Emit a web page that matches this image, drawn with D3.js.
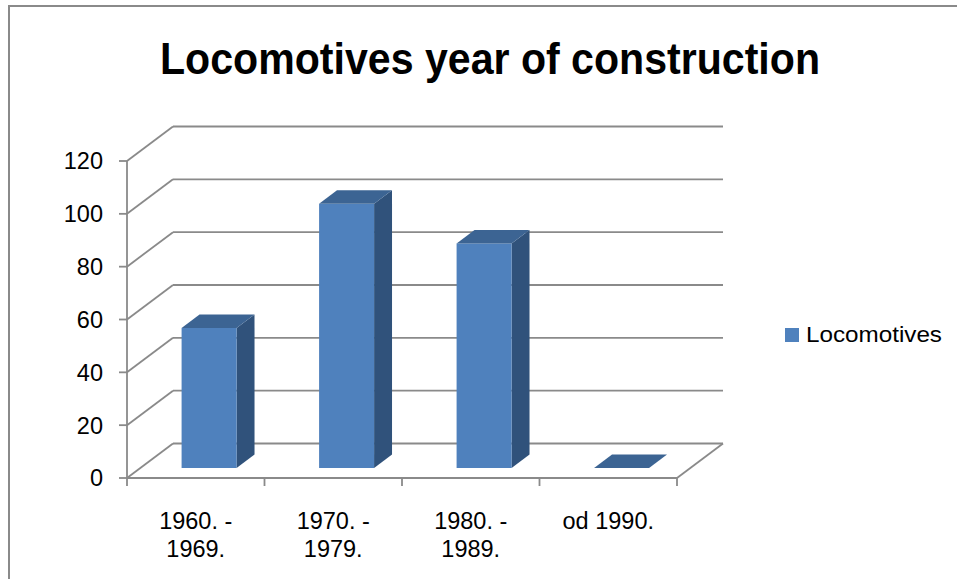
<!DOCTYPE html>
<html>
<head>
<meta charset="utf-8">
<script src="https://cdn.jsdelivr.net/npm/d3@7"></script>
<style>
  html, body { margin: 0; padding: 0; background: #ffffff; }
  svg { display: block; }
  text { font-family: "Liberation Sans", Arial, sans-serif; fill: #000; }
</style>
</head>
<body>
<script>
// ---- data ----
const title = "Locomotives year of construction";
const seriesName = "Locomotives";
const categories = [["1960. -", "1969."], ["1970. -", "1979."], ["1980. -", "1989."], ["od 1990."]];
const values = [53, 100, 85, 0];
const yTicks = [0, 20, 40, 60, 80, 100, 120];

// ---- layout ----
const W = 957, H = 579;
const svg = d3.select("body").append("svg").attr("width", W).attr("height", H);

const DX = 46, DY = -34.5;        // depth offset of the back wall
const F0 = 0.29, F1 = 0.68;       // bar front / back depth fractions
const gridColor = "#8a8a8a";

const x = d3.scaleBand().domain(d3.range(categories.length)).range([127, 677]).padding(0);
const y = d3.scaleLinear().domain([0, 120]).range([478, 161]);

// chart border
svg.append("rect").attr("x", 9).attr("y", 6).attr("width", 1100).attr("height", 700)
  .attr("fill", "none").attr("stroke", gridColor).attr("stroke-width", 2);

// title
const t = svg.append("text").attr("x", 490).attr("y", 74).attr("text-anchor", "middle")
  .style("font-weight", "bold").style("font-size", "45px").text(title);
t.attr("textLength", 660).attr("lengthAdjust", "spacingAndGlyphs");

const x0 = x.range()[0], x1 = x.range()[1];

// back wall gridlines + left wall diagonals
const g = svg.append("g").attr("stroke", gridColor).attr("stroke-width", 1.8).attr("fill", "none");
yTicks.forEach(v => {
  g.append("line").attr("x1", x0 + DX).attr("x2", x1 + DX)
    .attr("y1", y(v) + DY).attr("y2", y(v) + DY);
  g.append("line").attr("x1", x0).attr("y1", y(v))
    .attr("x2", x0 + DX).attr("y2", y(v) + DY);
});
// floor right edge
g.append("line").attr("x1", x1).attr("y1", y(0)).attr("x2", x1 + DX).attr("y2", y(0) + DY);
// vertical axis
g.append("line").attr("x1", x0).attr("x2", x0).attr("y1", y(0)).attr("y2", y(120));
// horizontal axis
g.append("line").attr("x1", x0).attr("x2", x1).attr("y1", y(0)).attr("y2", y(0));
// y ticks
yTicks.forEach(v => {
  g.append("line").attr("x1", x0 - 8).attr("x2", x0).attr("y1", y(v)).attr("y2", y(v));
});
// x ticks
d3.range(categories.length + 1).forEach(i => {
  const xx = i < categories.length ? x(i) : x1;
  g.append("line").attr("x1", xx).attr("x2", xx).attr("y1", y(0)).attr("y2", y(0) + 8);
});

// y tick labels
svg.append("g").selectAll("text").data(yTicks).join("text")
  .attr("x", 103).attr("y", d => y(d)).attr("dy", "0.36em")
  .attr("text-anchor", "end").style("font-size", "23.5px").text(d => d);

// x labels
const xl = svg.append("g").selectAll("text").data(categories).join("text")
  .attr("x", (d, i) => x(i) + x.bandwidth() / 2)
  .attr("y", 529).attr("text-anchor", "middle").style("font-size", "23.5px");
xl.selectAll("tspan").data(d => d).join("tspan")
  .attr("x", function () { return d3.select(this.parentNode).attr("x"); })
  .attr("dy", (d, i) => i === 0 ? 0 : 28).text(d => d);

// bars
const frontColor = "#4F81BD", sideColor = "#30527B", topColor = "#3C6493";
const bw = x.bandwidth() * 0.4;
const bars = svg.append("g");
values.forEach((v, i) => {
  const cx = x(i) + x.bandwidth() / 2;
  const fx0 = cx - bw / 2 + F0 * DX, fx1 = fx0 + bw;
  const fyb = y(0) + F0 * DY, fyt = y(v) + F0 * DY;
  const ddx = (F1 - F0) * DX, ddy = (F1 - F0) * DY;
  const pts = a => a.map(p => p.join(",")).join(" ");
  if (v > 0) {
    bars.append("polygon").attr("fill", sideColor)
      .attr("points", pts([[fx1, fyb], [fx1 + ddx, fyb + ddy], [fx1 + ddx, fyt + ddy], [fx1, fyt]]));
    bars.append("rect").attr("fill", frontColor).attr("x", fx0).attr("y", fyt)
      .attr("width", bw).attr("height", fyb - fyt);
  }
  bars.append("polygon").attr("fill", topColor)
    .attr("points", pts([[fx0, fyt], [fx1, fyt], [fx1 + ddx, fyt + ddy], [fx0 + ddx, fyt + ddy]]));
});

// legend
svg.append("rect").attr("x", 785).attr("y", 328).attr("width", 14).attr("height", 14).attr("fill", frontColor);
svg.append("text").attr("x", 806).attr("y", 342).style("font-size", "22px")
  .attr("textLength", 136).attr("lengthAdjust", "spacingAndGlyphs").text(seriesName);
</script>
</body>
</html>
